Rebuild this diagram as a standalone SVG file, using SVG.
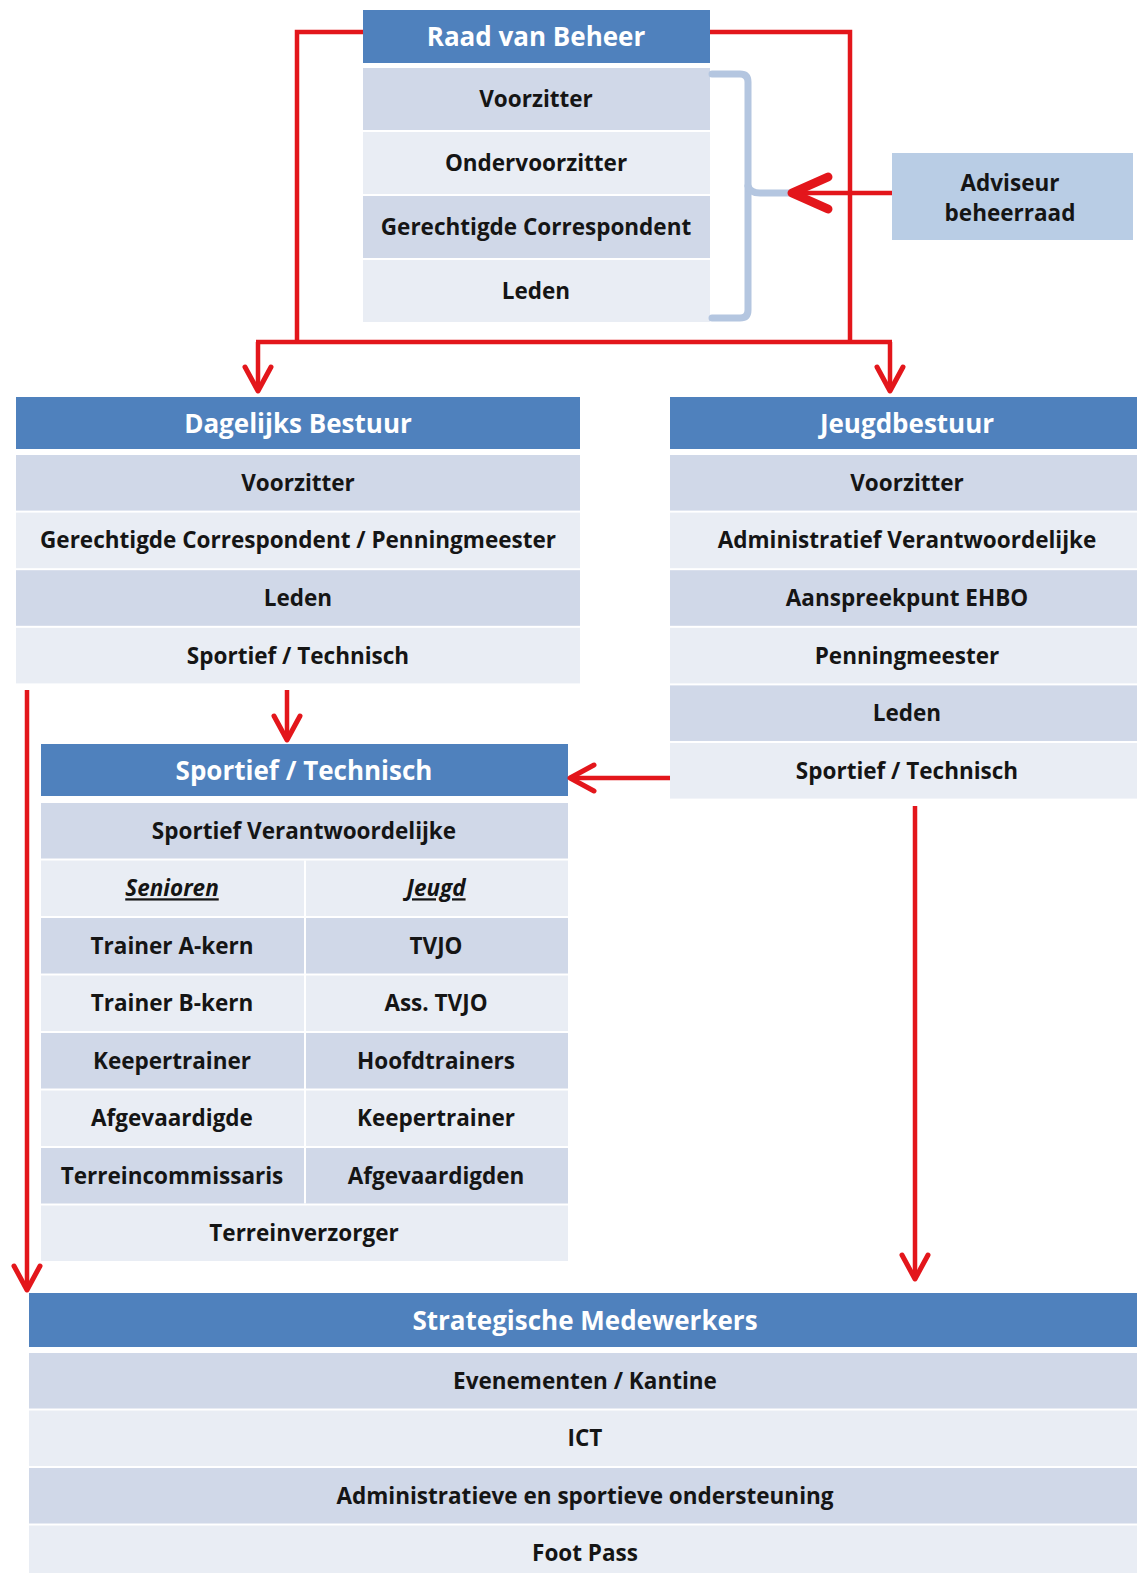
<svg xmlns="http://www.w3.org/2000/svg" width="1137" height="1573" viewBox="0 0 1137 1573">
<style>
.hd{fill:#4f81bd}
.dk{fill:#d0d8e8}
.lt{fill:#e9edf4}
.t{font-family:"Open Sans","Liberation Sans",sans-serif;font-weight:700;font-size:22.5px;fill:#151515;text-anchor:middle}
.h{font-size:26px;fill:#ffffff}
.u{font-style:italic;text-decoration:underline}
.c{stroke:#e3161b;stroke-width:4.5;fill:none}
.br{stroke:#b4c6e0;stroke-width:7;fill:none;stroke-linecap:round}
</style>
<defs>
<marker id="ah" markerUnits="userSpaceOnUse" viewBox="-30 -18 34 36" markerWidth="34" markerHeight="36" refX="-2" refY="0" orient="auto" overflow="visible">
<path d="M-24,-13 L0,0 L-24,13" fill="none" stroke="#e3161b" stroke-width="5" stroke-linecap="round" stroke-linejoin="round"/>
</marker>
<marker id="ahb" markerUnits="userSpaceOnUse" viewBox="-45 -25 50 50" markerWidth="50" markerHeight="50" refX="-3" refY="0" orient="auto" overflow="visible">
<path d="M-36,-16 L0,0 L-36,16" fill="none" stroke="#e3161b" stroke-width="9" stroke-linecap="round" stroke-linejoin="round"/>
</marker>
</defs>
<rect width="1137" height="1573" fill="#ffffff"/>

<g id="raad">
<rect class="hd" x="363" y="10" width="347" height="53"/>
<text class="t h" x="536" y="46">Raad van Beheer</text>
<rect class="dk" x="363" y="68" width="347" height="62"/>
<text class="t" x="536" y="107">Voorzitter</text>
<rect class="lt" x="363" y="132" width="347" height="62"/>
<text class="t" x="536" y="171">Ondervoorzitter</text>
<rect class="dk" x="363" y="196" width="347" height="62"/>
<text class="t" x="536" y="235">Gerechtigde Correspondent</text>
<rect class="lt" x="363" y="260" width="347" height="62"/>
<text class="t" x="536" y="299">Leden</text>
</g>

<g id="bracket">
<path class="br" d="M712 74 H740 Q748 74 748 82 V310 Q748 318 740 318 H712"/>
<path class="br" stroke-width="5" d="M748 186 Q750 193 760 193 H790"/>
</g>

<g id="adviseur">
<rect x="892" y="153" width="241" height="87" fill="#b9cde5"/>
<text class="t" x="1010" y="191">Adviseur</text>
<text class="t" x="1010" y="221">beheerraad</text>
</g>

<g id="dagelijks">
<rect class="hd" x="16" y="397" width="564" height="52"/>
<text class="t h" x="298" y="433">Dagelijks Bestuur</text>
<rect class="dk" x="16" y="455" width="564" height="55.6"/>
<text class="t" x="298" y="490.8">Voorzitter</text>
<rect class="lt" x="16" y="512.6" width="564" height="55.6"/>
<text class="t" x="298" y="548.4">Gerechtigde Correspondent / Penningmeester</text>
<rect class="dk" x="16" y="570.2" width="564" height="55.6"/>
<text class="t" x="298" y="606">Leden</text>
<rect class="lt" x="16" y="627.8" width="564" height="55.6"/>
<text class="t" x="298" y="663.6">Sportief / Technisch</text>
</g>

<g id="jeugdbestuur">
<rect class="hd" x="670" y="397" width="480" height="52"/>
<text class="t h" x="907" y="433">Jeugdbestuur</text>
<rect class="dk" x="670" y="455" width="480" height="55.6"/>
<text class="t" x="907" y="490.8">Voorzitter</text>
<rect class="lt" x="670" y="512.6" width="480" height="55.6"/>
<text class="t" x="907" y="548.4">Administratief Verantwoordelijke</text>
<rect class="dk" x="670" y="570.2" width="480" height="55.6"/>
<text class="t" x="907" y="606">Aanspreekpunt EHBO</text>
<rect class="lt" x="670" y="627.8" width="480" height="55.6"/>
<text class="t" x="907" y="663.6">Penningmeester</text>
<rect class="dk" x="670" y="685.4" width="480" height="55.6"/>
<text class="t" x="907" y="721.2">Leden</text>
<rect class="lt" x="670" y="743" width="480" height="55.6"/>
<text class="t" x="907" y="778.8">Sportief / Technisch</text>
</g>

<g id="sportief">
<rect class="hd" x="41" y="744" width="527" height="52"/>
<text class="t h" x="304" y="780">Sportief / Technisch</text>
<rect class="dk" x="41" y="803" width="527" height="55.5"/>
<text class="t" x="304" y="838.8">Sportief Verantwoordelijke</text>
<rect class="lt" x="41" y="860.5" width="527" height="55.5"/>
<text class="t u" x="172" y="896.3">Senioren</text>
<text class="t u" x="436" y="896.3">Jeugd</text>
<rect class="dk" x="41" y="918" width="527" height="55.5"/>
<text class="t" x="172" y="953.8">Trainer A-kern</text>
<text class="t" x="436" y="953.8">TVJO</text>
<rect class="lt" x="41" y="975.5" width="527" height="55.5"/>
<text class="t" x="172" y="1011.3">Trainer B-kern</text>
<text class="t" x="436" y="1011.3">Ass. TVJO</text>
<rect class="dk" x="41" y="1033" width="527" height="55.5"/>
<text class="t" x="172" y="1068.8">Keepertrainer</text>
<text class="t" x="436" y="1068.8">Hoofdtrainers</text>
<rect class="lt" x="41" y="1090.5" width="527" height="55.5"/>
<text class="t" x="172" y="1126.3">Afgevaardigde</text>
<text class="t" x="436" y="1126.3">Keepertrainer</text>
<rect class="dk" x="41" y="1148" width="527" height="55.5"/>
<text class="t" x="172" y="1183.8">Terreincommissaris</text>
<text class="t" x="436" y="1183.8">Afgevaardigden</text>
<rect class="lt" x="41" y="1205.5" width="527" height="55.5"/>
<text class="t" x="304" y="1241.3">Terreinverzorger</text>
<line x1="305" y1="860.5" x2="305" y2="1203.5" stroke="#ffffff" stroke-width="2"/>
</g>

<g id="strategische">
<rect class="hd" x="29" y="1293" width="1120" height="54"/>
<text class="t h" x="585" y="1330">Strategische Medewerkers</text>
<rect class="dk" x="29" y="1353" width="1120" height="55.5"/>
<text class="t" x="585" y="1388.8">Evenementen / Kantine</text>
<rect class="lt" x="29" y="1410.5" width="1120" height="55.5"/>
<text class="t" x="585" y="1446.3">ICT</text>
<rect class="dk" x="29" y="1468" width="1120" height="55.5"/>
<text class="t" x="585" y="1503.8">Administratieve en sportieve ondersteuning</text>
<rect class="lt" x="29" y="1525.5" width="1120" height="55.5"/>
<text class="t" x="585" y="1561.3">Foot Pass</text>
</g>

<g id="connectors">
<path class="c" d="M363 32 H297 V342"/>
<path class="c" d="M710 32 H850 V342"/>
<path class="c" d="M256 342 H892"/>
<path class="c" d="M258 342 V389" marker-end="url(#ah)"/>
<path class="c" d="M890 342 V389" marker-end="url(#ah)"/>
<path class="c" d="M287 690 V738" marker-end="url(#ah)"/>
<path class="c" d="M27 690 V1288" marker-end="url(#ah)"/>
<path class="c" d="M670 778 H572" marker-end="url(#ah)"/>
<path class="c" d="M915 806 V1277" marker-end="url(#ah)"/>
<path class="c" stroke-width="9" d="M892 193 H795" marker-end="url(#ahb)"/>
</g>
</svg>
